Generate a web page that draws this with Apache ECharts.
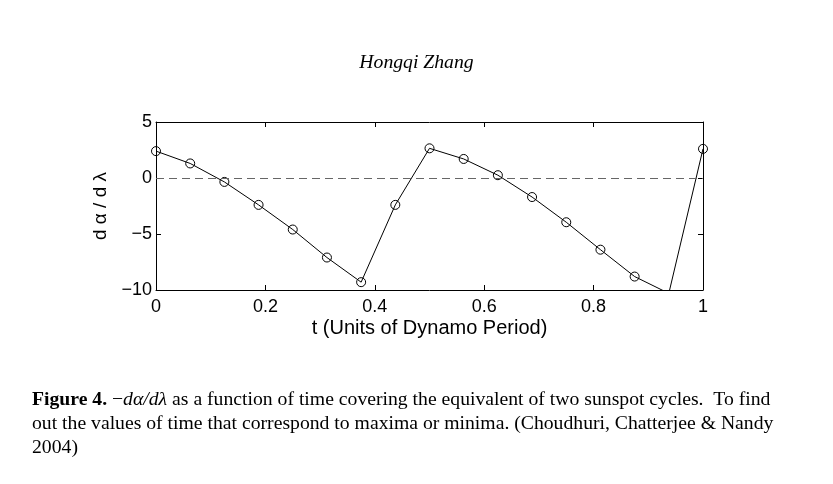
<!DOCTYPE html>
<html>
<head>
<meta charset="utf-8">
<script src="https://cdn.jsdelivr.net/npm/echarts@6/dist/echarts.min.js"></script>
<style>
html,body{margin:0;padding:0;background:#fff;}
#c{width:833px;height:484px;}
</style>
</head>
<body>
<div id="c"></div>
<script>
var tValues = [0, 0.0625, 0.125, 0.1875, 0.25, 0.3125, 0.375, 0.4375, 0.5, 0.5625, 0.625, 0.6875, 0.75, 0.8125, 0.875, 0.9375, 1];
var dAlphaValues = [2.4, 1.3, -0.35, -2.4, -4.6, -7.1, -9.3, -2.4, 2.65, 1.7, 0.25, -1.7, -3.95, -6.4, -8.8, -10.3, 2.6];
var titleText = 'Hongqi Zhang';
var xName = 't (Units of Dynamo Period)';
var yName = 'd \u03b1 / d \u03bb';
var captionLines = [
  ['Figure 4.', ' \u2212', 'd\u03b1/d\u03bb', ' as a function of time covering the equivalent of two sunspot cycles.  To find'],
  ['out the values of time that correspond to maxima or minima. (Choudhuri, Chatterjee & Nandy'],
  ['2004)']
];

var seriesData = tValues.map(function (t, i) { return [t, dAlphaValues[i]]; });
function minus(v) { return String(v).replace('-', '\u2212'); }

var chart = echarts.init(document.getElementById('c'), null, {renderer: 'canvas'});
var serif = '"Liberation Serif", "Times New Roman", serif';
var sans = '"Liberation Sans", Helvetica, Arial, sans-serif';

var graphics = [];
var capTop = [390, 414, 438];
var capLeft = 32;
var capSize = 19.7;
graphics.push({
  type: 'text', left: capLeft, top: capTop[0],
  style: {
    text: '{b|' + captionLines[0][0] + '}{n|' + captionLines[0][1] + '}{i|' + captionLines[0][2] + '}{n|' + captionLines[0][3] + '}',
    rich: {
      b: {fontFamily: serif, fontWeight: 'bold', fontSize: capSize, fill: '#000'},
      n: {fontFamily: serif, fontSize: capSize, fill: '#000'},
      i: {fontFamily: serif, fontStyle: 'italic', fontSize: capSize, fill: '#000'}
    }
  }
});
graphics.push({type: 'text', left: capLeft, top: capTop[1], style: {text: captionLines[1][0], font: capSize + 'px ' + serif, fill: '#000'}});
graphics.push({type: 'text', left: capLeft, top: capTop[2], style: {text: captionLines[2][0], font: capSize + 'px ' + serif, fill: '#000'}});

var axisLine = {show: true, onZero: false, lineStyle: {color: '#000', width: 1}};
var tick = {show: true, inside: true, length: 5, lineStyle: {color: '#000', width: 1}};

chart.setOption({
  animation: false,
  backgroundColor: '#fff',
  title: {
    text: titleText, left: 'center', top: 48,
    textStyle: {fontFamily: serif, fontStyle: 'italic', fontWeight: 'normal', fontSize: 19.7, color: '#000'}
  },
  graphic: graphics,
  grid: {left: 156, right: 130, top: 122, bottom: 194, containLabel: false},
  xAxis: [{
    type: 'value', min: 0, max: 1, interval: 0.2, position: 'bottom',
    name: xName, nameLocation: 'middle', nameGap: 28,
    nameTextStyle: {fontFamily: sans, fontSize: 20, color: '#000'},
    axisLine: axisLine, axisTick: tick, splitLine: {show: false},
    axisLabel: {fontFamily: sans, fontSize: 18, color: '#000', margin: 8}
  }, {
    type: 'value', min: 0, max: 1, interval: 0.2, position: 'top',
    axisLine: axisLine, axisTick: tick, splitLine: {show: false}, axisLabel: {show: false}
  }],
  yAxis: [{
    type: 'value', min: -10, max: 5, interval: 5, position: 'left',
    name: yName, nameLocation: 'middle', nameGap: 44,
    nameTextStyle: {fontFamily: sans, fontSize: 19, color: '#000'},
    axisLine: axisLine, axisTick: tick, splitLine: {show: false},
    axisLabel: {fontFamily: sans, fontSize: 18, color: '#000', margin: 4, formatter: minus}
  }, {
    type: 'value', min: -10, max: 5, interval: 5, position: 'right',
    axisLine: axisLine, axisTick: tick, splitLine: {show: false}, axisLabel: {show: false}
  }],
  series: [{
    type: 'line', data: seriesData, clip: true,
    symbol: 'circle', symbolSize: 9,
    itemStyle: {color: 'transparent', borderColor: '#000', borderWidth: 1},
    lineStyle: {color: '#000', width: 1},
    markLine: {
      silent: true, symbol: ['none', 'none'], label: {show: false},
      lineStyle: {color: '#666', type: [8, 5], width: 1},
      data: [{yAxis: 0}]
    }
  }]
});
</script>
</body>
</html>
